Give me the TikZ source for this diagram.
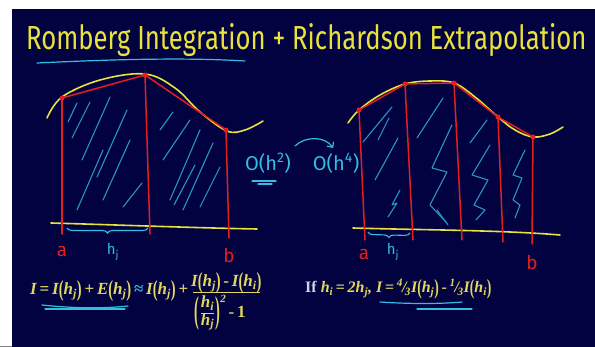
\documentclass[tikz,border=0pt]{standalone}
\usepackage{fontspec}
\setmainfont{Liberation Serif}
\newfontfamily\hand{Fira Sans}
\usetikzlibrary{decorations.pathreplacing,arrows.meta}
\definecolor{bg}{RGB}{2,2,64}
\definecolor{yel}{RGB}{232,226,60}
\definecolor{rd}{RGB}{230,30,30}
\definecolor{cy}{RGB}{50,190,225}
\definecolor{hatchc}{RGB}{40,150,195}
\definecolor{formcol}{RGB}{225,215,95}
\definecolor{lav}{RGB}{210,210,235}
\newcommand{\lpar}{\raisebox{-2pt}{\scalebox{0.85}[1.35]{\upshape(}}}
\newcommand{\rpar}{\raisebox{-2pt}{\scalebox{0.85}[1.35]{\upshape)}}}
\newcommand{\hsub}[1]{h\textsubscript{#1}}
\newcommand{\fofh}[2]{#1\lpar\hsub{#2}\rpar}
\newcommand{\op}[1]{\,{\upshape#1}\,}
\tikzset{
  curve/.style={yel, line width=1.6pt, line cap=round, line join=round},
  redl/.style={rd, line width=1.5pt, line cap=round, line join=round},
  hat/.style={hatchc, line width=1.1pt, line cap=round, line join=round},
  cyl/.style={cy, line width=1.2pt, line cap=round},
  dot/.style={circle, fill=rd, inner sep=0pt, minimum size=5pt},
  redlbl/.style={rd, font=\hand\fontsize{19}{19}\selectfont, inner sep=0pt},
  cylbl/.style={cy, font=\hand\fontsize{15}{15}\selectfont, inner sep=0pt},
  olbl/.style={cy, font=\hand\fontsize{20}{20}\selectfont, inner sep=0pt},
  brc/.style={cy, line width=1.1pt, decorate, decoration={brace, mirror, amplitude=5pt}},
  formula/.style={text=formcol, anchor=base west, inner sep=0pt, font=\fontsize{17}{20}\selectfont\bfseries\itshape},
  formulab/.style={formula, font=\fontsize{16}{19}\selectfont\bfseries\itshape},
  formline/.style={formcol, line width=0.8pt},
}
\begin{document}
\begin{tikzpicture}[x=1pt, y=-1pt]
\useasboundingbox (0,0) rectangle (595,347);
\fill[white] (0,0) rectangle (595,347);
\fill[bg] (12,9) rectangle (595,347);
\draw[gray, line width=0.8pt] (0,346) -- (12,346);

% title
\node[yel, anchor=base west, inner sep=0pt, font=\hand] (title) at (26,50)
  {\resizebox{560pt}{26pt}{Romberg Integration + Richardson Extrapolation}};
\draw[cyl] (37,63) .. controls (100,60) and (180,57) .. (245,61);

% ---------------- left graph ----------------
\draw[curve] plot[smooth, tension=0.6] coordinates
  {(47,118) (62,97) (100,80) (145,74) (175,88) (200,112) (227,131) (245,130) (263,121)};
\node[dot] (p0) at (62,98) {};
\node[dot] (p1) at (145,75) {};
\node[dot] (p2) at (226,130) {};
\coordinate (p0b) at (62,234);
\coordinate (p1b) at (150,234);
\coordinate (p2b) at (229,238);
\draw[curve] (51,223) .. controls (120,225) and (200,228) .. (257,229);
\draw[redl] (p0.center) -- (p1.center) -- (p2.center);
\draw[redl] (p0.center) -- (p0b);
\draw[redl] (p1.center) -- (p1b);
\draw[redl] (p2.center) -- (p2b);
% hatching
\foreach \ax/\ay/\bx/\by in {77/103/68/122, 90/102/72/138, 110/97/82/160, 127/110/97/177,
  130/140/103/200, 103/150/77/210, 142/183/123/207,
  173/112/160/130, 190/120/163/160, 200/130/170/200, 213/143/183/210,
  220/167/200/207, 195/165/174/205}
  \draw[hat] (\ax,\ay) -- (\bx,\by);
\draw[brc] (67,228) -- (148,228);
\node[redlbl] (a1) at (62,251) {a};
\node[redlbl] (b1) at (229,255) {b};
\node[cylbl] (h1) at (113,252) {h\textsubscript{j}};

% ---------------- right graph ----------------
\draw[curve] plot[smooth, tension=0.6] coordinates
  {(348,123) (359,110) (380,95) (405,84) (430,81) (454,83) (475,97) (498,117) (515,130) (533,137) (550,134) (563,127)};
\node[dot] (q0) at (359,110) {};
\node[dot] (q1) at (405,84) {};
\node[dot] (q2) at (454,83) {};
\node[dot] (q3) at (498,117) {};
\node[dot] (q4) at (533,137) {};
\coordinate (q0b) at (365,240);
\coordinate (q1b) at (413,240);
\coordinate (q2b) at (462,240);
\coordinate (q3b) at (503,242);
\coordinate (q4b) at (532,244);
\draw[curve] (353,228) .. controls (420,230) and (500,230) .. (560,235);
\draw[redl] (q0.center) -- (q1.center) -- (q2.center) -- (q3.center) -- (q4.center);
\foreach \p in {q0,q1,q2,q3,q4} \draw[redl] (\p.center) -- (\p b);
% hatching
\draw[hat] (392,107) -- (363,142);
\draw[hat] (398,138) -- (375,180);
\draw[hat] (389,118) -- (378,140);
\draw[hat] (400,190) -- (392,205) -- (397,203) -- (388,217);
\draw[hat] (443,98) -- (417,138);
\draw[hat] (452,125) -- (432,168) -- (447,172) -- (430,205) -- (446,222);
\draw[hat] (437,210) -- (448,225);
\draw[hat] (487,120) -- (470,143);
\draw[hat] (490,145) -- (472,175) -- (488,180) -- (474,205) -- (485,210) -- (476,220);
\draw[hat] (525,150) -- (513,175) -- (522,178) -- (513,200) -- (520,205) -- (515,218);
\draw[brc] (368,232) -- (410,233);
\node[redlbl] (a2) at (364,254) {a};
\node[redlbl] (b2) at (532,262) {b};
\node[cylbl] (h2) at (393,252) {h\textsubscript{j}};

% ---------------- middle ----------------
\node[olbl] (o2) at (268,163) {O(h\textsuperscript{2})};
\node[olbl] (o4) at (336,163) {O(h\textsuperscript{4})};
\coordinate (arrs) at (295,146);
\coordinate (arre) at (333,148);
\draw[cyl, -{Straight Barb[length=4pt]}] (arrs) .. controls (305,136) and (325,136) .. (arre);
\draw[cyl] (252,181) -- (276,181);
\draw[cyl] (258,184) -- (272,184);

% ---------------- formulas ----------------
\node[formula] (f1) at (30,295)
  {I\op{=}\fofh{I}{j}\op{+}\fofh{E}{j}\op{\textcolor{cy}{≈}}\fofh{I}{j}\op{+}};
\coordinate (barL) at ([xshift=2pt, yshift=3pt]f1.base east);
\coordinate (barR) at ([xshift=67pt]barL);
\draw[formline] (barL) -- (barR);
\node[formula, anchor=base] (num) at ([xshift=33pt, yshift=5pt]barL)
  {\fofh{I}{j}\op{-}\fofh{I}{i}};
\node[formula, anchor=north west] (den) at ([xshift=1pt, yshift=-3pt]barL)
  {\raisebox{-5pt}{\scalebox{0.85}[2.2]{\upshape(}}\kern1.5pt%
   \setlength{\arrayrulewidth}{0.8pt}\renewcommand{\arraystretch}{0.8}%
   \begin{tabular}{@{}c@{}}h\textsubscript{i}\\\hline h\textsubscript{j}\end{tabular}%
   \kern1.5pt\raisebox{-5pt}{\scalebox{0.85}[2.2]{\upshape)}}%
   \raisebox{15pt}{\fontsize{11}{11}\selectfont 2}\op{-}{\upshape 1}};
\draw[cyl] (42,305) .. controls (70,308) and (100,309) .. (128,306);
\draw[cyl] (45,309) -- (125,309);

\node[formulab] (f2) at (305,293)
  {\textcolor{lav}{\upshape If} \hsub{i}\op{=}2\hsub{j}, I\op{=}\textsuperscript{4}\kern-1pt/\kern-1.5pt\textsubscript{3}\fofh{I}{j}\op{-}\textsuperscript{1}\kern-1pt/\kern-1.5pt\textsubscript{3}\fofh{I}{i}};
\draw[cyl] (380,302) .. controls (410,304) and (440,304) .. (462,302);
\draw[cyl] (417,309) -- (472,309);
\end{tikzpicture}
\end{document}
